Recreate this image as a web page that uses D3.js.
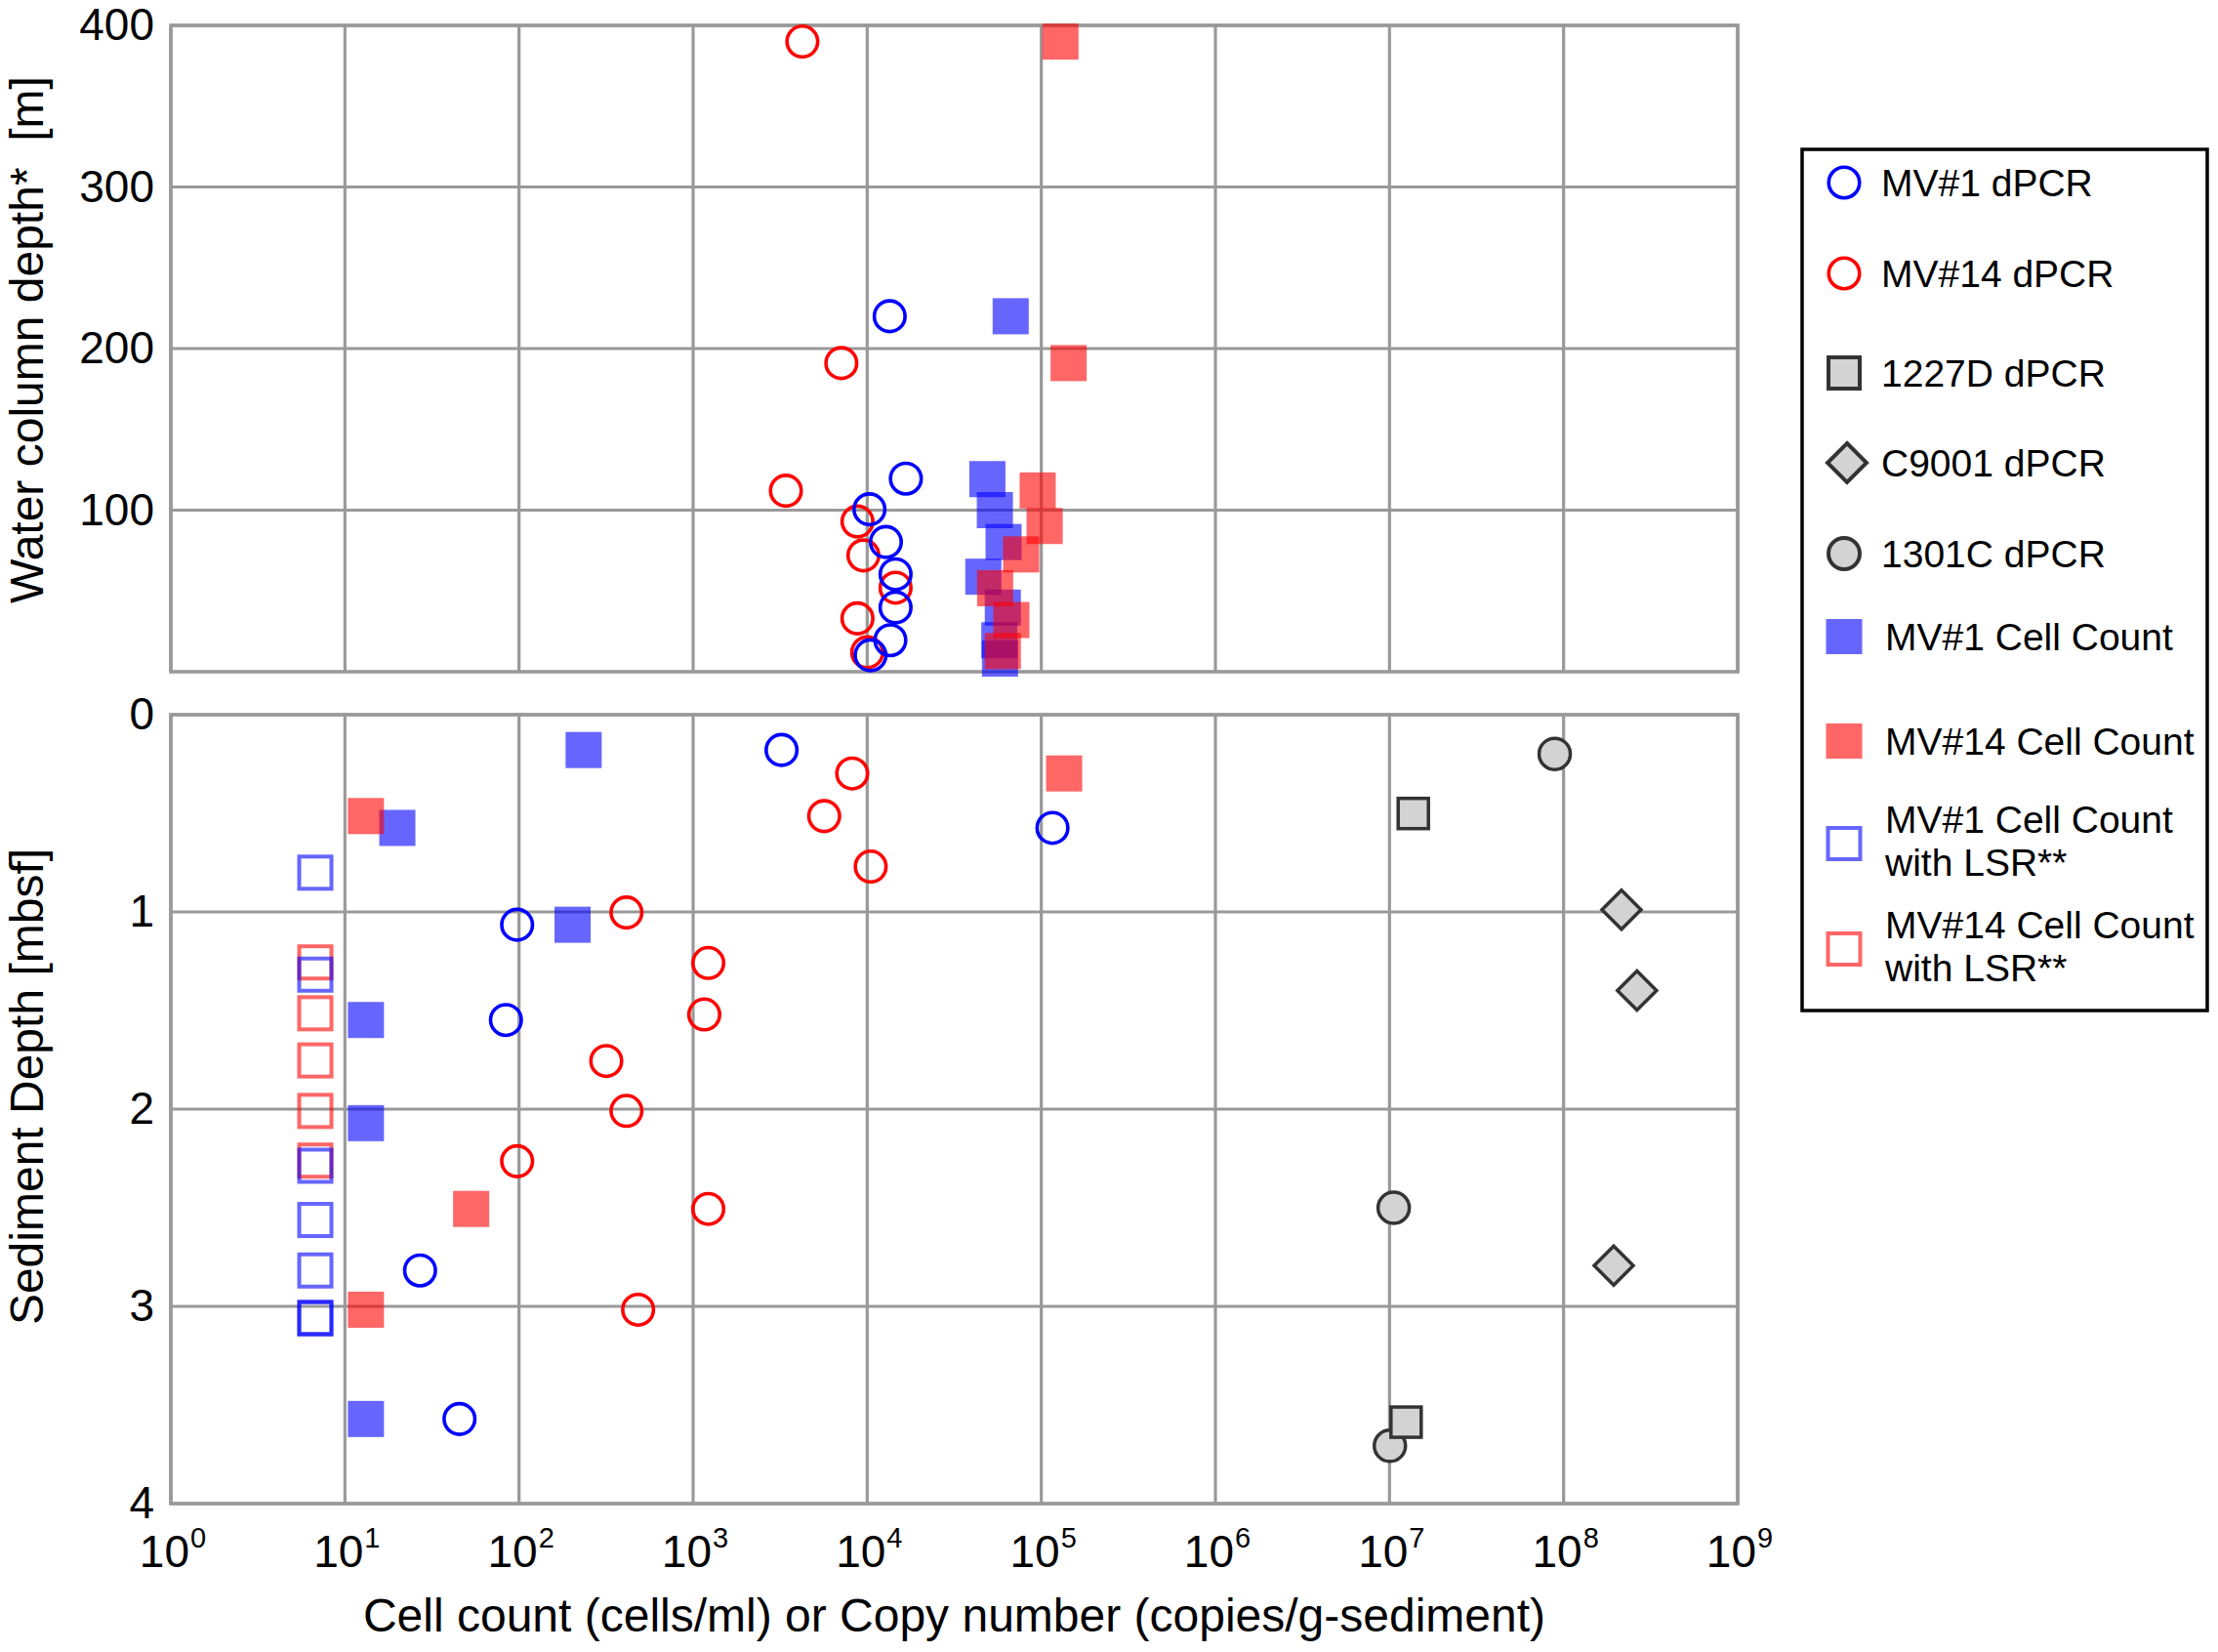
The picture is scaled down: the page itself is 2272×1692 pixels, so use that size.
<!DOCTYPE html>
<html><head><meta charset="utf-8">
<script src="https://cdn.jsdelivr.net/npm/d3@7/dist/d3.min.js"></script>
<style>
body{margin:0;background:#fff}
svg{display:block}
text{font-family:"Liberation Sans", Arial, Helvetica, sans-serif; fill:#000}
</style>
</head><body>
<svg id="chart" width="2272" height="1692"></svg>
<script>
// ---------- DATA ----------
const xTickExponents = [0,1,2,3,4,5,6,7,8,9];
const waterTicks = [100,200,300,400];
const sedimentTicks = [0,1,2,3,4];
const xTitle = "Cell count (cells/ml) or Copy number (copies/g-sediment)";
const waterTitle = "Water column depth*  [m]";
const sedimentTitle = "Sediment Depth [mbsf]";

// Water column: [value, depth m]
const mv1DpcrWater  = [[13460,220],[16670,119.5],[10300,100.5],[12800,80.3],[14550,60.3],[14550,39.8],[13580,19.5],[10450,10.2]];
const mv14DpcrWater = [[4240,390],[7100,191],[3410,112],[8790,93],[9510,72],[14550,52],[8790,33],[10000,12]];
const mv1CellWater  = [[66700,220],[49000,119.2],[54100,100],[60700,80.3],[46450,58.8],[60100,39.7],[57400,19.5],[57900,8.1]];
const mv14CellWater = [[128800,390],[143500,191],[95300,112.2],[104500,90.2],[76600,72.6],[54300,51.7],[67300,32],[60100,12.8]];

// Sediment: [value, depth mbsf]
const mv1CellSed  = [[235,0.179],[20,0.574],[203,1.065],[13.2,1.548],[13.2,2.071],[13.2,3.571]];
const mv14CellSed = [[135200,0.298],[13.2,0.514],[53.1,2.506],[13.2,3.017]];
const mv1LsrSed   = [[6.76,0.801],[6.76,1.318],[6.76,2.287],[6.76,2.562],[6.76,2.818],[6.76,3.057],[6.76,3.062]];
const mv14LsrSed  = [[6.76,1.256],[6.76,1.514],[6.76,1.753],[6.76,2.009],[6.76,2.261]];
const mv1DpcrSed  = [[3220,0.179],[115900,0.574],[97.5,1.065],[84.1,1.548],[27.0,2.818],[45.5,3.571]];
const mv14DpcrSed = [[8200,0.298],[5660,0.514],[10470,0.770],[414,1.003],[1222,1.259],[1159,1.520],[317,1.756],[414,2.009],[97.5,2.264],[1222,2.506],[483,3.017]];
const d1227Sed    = [[1.37e7,0.501],[1.245e7,3.587]];
const c9001Sed    = [[2.15e8,0.989],[2.64e8,1.399],[1.94e8,2.793]];
const c1301Sed    = [[8.89e7,0.199],[1.057e7,2.5],[1.005e7,3.707]];

const legendLabels = [
  ["MV#1 dPCR"],["MV#14 dPCR"],["1227D dPCR"],["C9001 dPCR"],["1301C dPCR"],
  ["MV#1 Cell Count"],["MV#14 Cell Count"],
  ["MV#1 Cell Count","with LSR**"],["MV#14 Cell Count","with LSR**"]
];

// ---------- STYLE / LAYOUT ----------
const BLUE="#0000ff", RED="#ff0000", GRID="#999999";
const svg = d3.select("#chart");
svg.append("rect").attr("width",2272).attr("height",1692).attr("fill","#fff");

const x = d3.scaleLog().domain([1,1e9]).range([175,1780]);
const yTop = d3.scaleLinear().domain([0,400]).range([688,26]);
const yBot = d3.scaleLinear().domain([0,4]).range([732,1540]);

function grid(yScale, hTicks){
  const g = svg.append("g");
  const [y0,y1] = yScale.range();
  g.selectAll("line.v").data(xTickExponents).join("line")
    .attr("x1",e=>x(Math.pow(10,e))).attr("x2",e=>x(Math.pow(10,e)))
    .attr("y1",Math.min(y0,y1)).attr("y2",Math.max(y0,y1))
    .attr("stroke",GRID).attr("stroke-width",3.2);
  g.selectAll("line.h").data(hTicks).join("line")
    .attr("x1",x(1)).attr("x2",x(1e9))
    .attr("y1",d=>yScale(d)).attr("y2",d=>yScale(d))
    .attr("stroke",GRID).attr("stroke-width",3.2);
  g.append("rect").attr("x",x(1)).attr("y",Math.min(y0,y1))
    .attr("width",x(1e9)-x(1)).attr("height",Math.abs(y0-y1))
    .attr("fill","none").attr("stroke",GRID).attr("stroke-width",3.6);
}
grid(yTop, waterTicks);
grid(yBot, sedimentTicks);

// y tick labels via axes
function yLabels(scale, ticks){
  const g = svg.append("g").attr("transform","translate(175,0)")
    .call(d3.axisLeft(scale).tickValues(ticks).tickSize(0).tickPadding(17).tickFormat(d3.format("d")));
  g.select(".domain").remove();
  g.selectAll("text").attr("font-size",46).attr("fill","#000")
    .style("font-family",'"Liberation Sans", Arial, sans-serif');
}
yLabels(yTop, waterTicks);
yLabels(yBot, sedimentTicks);

// x tick labels with superscripts
const xl = svg.append("g");
xTickExponents.forEach(e=>{
  const t = xl.append("text").attr("x",x(Math.pow(10,e))+2).attr("y",1605)
    .attr("text-anchor","middle").attr("font-size",46);
  t.append("tspan").text("10");
  t.append("tspan").attr("font-size",29).attr("dy",-20).attr("dx",1).text(String(e));
});

// axis titles
svg.append("text").attr("x",(x(1)+x(1e9))/2).attr("y",1671).attr("text-anchor","middle")
  .attr("font-size",48).text(xTitle);
svg.append("text").attr("transform","translate(44,348) rotate(-90)").attr("text-anchor","middle")
  .attr("font-size",48).style("white-space","pre").text(waterTitle);
svg.append("text").attr("transform","translate(44,1113) rotate(-90)").attr("text-anchor","middle")
  .attr("font-size",48).text(sedimentTitle);

// ---------- MARKS ----------
const SQ=37, R=17.5;
function filledSquares(data, y, color){
  svg.append("g").selectAll("rect").data(data).join("rect")
    .attr("x",d=>x(d[0])-SQ/2).attr("y",d=>y(d[1])-SQ/2)
    .attr("width",SQ).attr("height",SQ).attr("fill",color).attr("fill-opacity",0.6);
}
function openSquares(data, y, color){
  svg.append("g").selectAll("rect").data(data).join("rect")
    .attr("x",d=>x(d[0])-16.5).attr("y",d=>y(d[1])-16.5)
    .attr("width",33).attr("height",33).attr("fill","none")
    .attr("stroke",color).attr("stroke-opacity",0.6).attr("stroke-width",4);
}
function openCircles(data, y, color){
  svg.append("g").selectAll("circle").data(data).join("circle")
    .attr("cx",d=>x(d[0])).attr("cy",d=>y(d[1])).attr("r",R-1.75)
    .attr("fill","none").attr("stroke",color).attr("stroke-width",3.6);
}
function grayCircles(data, y){
  svg.append("g").selectAll("circle").data(data).join("circle")
    .attr("cx",d=>x(d[0])).attr("cy",d=>y(d[1])).attr("r",16)
    .attr("fill","#d3d3d3").attr("stroke","#333").attr("stroke-width",3.5);
}
function graySquares(data, y){
  svg.append("g").selectAll("rect").data(data).join("rect")
    .attr("x",d=>x(d[0])-15.5).attr("y",d=>y(d[1])-15.5).attr("width",31).attr("height",31)
    .attr("fill","#d3d3d3").attr("stroke","#333").attr("stroke-width",3.5);
}
const diamondPath = "M0,-20L20,0L0,20L-20,0Z";
function grayDiamonds(data, y){
  svg.append("g").selectAll("path").data(data).join("path")
    .attr("transform",d=>`translate(${x(d[0])},${y(d[1])})`).attr("d",diamondPath)
    .attr("fill","#d3d3d3").attr("stroke","#333").attr("stroke-width",3.5);
}

// water column
filledSquares(mv1CellWater, yTop, BLUE);
filledSquares(mv14CellWater, yTop, RED);
openCircles(mv14DpcrWater, yTop, RED);
openCircles(mv1DpcrWater, yTop, BLUE);
// sediment
filledSquares(mv1CellSed, yBot, BLUE);
filledSquares(mv14CellSed, yBot, RED);
openSquares(mv14LsrSed, yBot, RED);
openSquares(mv1LsrSed, yBot, BLUE);
openCircles(mv14DpcrSed, yBot, RED);
openCircles(mv1DpcrSed, yBot, BLUE);
grayCircles(c1301Sed, yBot);
graySquares(d1227Sed, yBot);
grayDiamonds(c9001Sed, yBot);

// ---------- LEGEND ----------
const lg = svg.append("g");
lg.append("rect").attr("x",1846).attr("y",153).attr("width",415).attr("height",882)
  .attr("fill","#fff").attr("stroke","#000").attr("stroke-width",3.5);
const legendY = [187,280,382,474,567,652,759,864,972];
const sx = 1889;
function legendSymbol(i, cy){
  const g = lg.append("g");
  switch(i){
    case 0: g.append("circle").attr("cx",sx).attr("cy",cy).attr("r",R-1.75).attr("fill","none").attr("stroke",BLUE).attr("stroke-width",3.6); break;
    case 1: g.append("circle").attr("cx",sx).attr("cy",cy).attr("r",R-1.75).attr("fill","none").attr("stroke",RED).attr("stroke-width",3.6); break;
    case 2: g.append("rect").attr("x",sx-16).attr("y",cy-16).attr("width",32).attr("height",32).attr("fill","#d3d3d3").attr("stroke","#333").attr("stroke-width",4); break;
    case 3: g.append("path").attr("transform",`translate(${sx+3},${cy})`).attr("d",diamondPath).attr("fill","#d3d3d3").attr("stroke","#333").attr("stroke-width",4); break;
    case 4: g.append("circle").attr("cx",sx).attr("cy",cy).attr("r",16).attr("fill","#d3d3d3").attr("stroke","#333").attr("stroke-width",4); break;
    case 5: g.append("rect").attr("x",sx-18.5).attr("y",cy-18).attr("width",37).attr("height",36).attr("fill",BLUE).attr("fill-opacity",0.6); break;
    case 6: g.append("rect").attr("x",sx-18.5).attr("y",cy-18).attr("width",37).attr("height",36).attr("fill",RED).attr("fill-opacity",0.6); break;
    case 7: g.append("rect").attr("x",sx-16.5).attr("y",cy-16).attr("width",33).attr("height",32).attr("fill","none").attr("stroke",BLUE).attr("stroke-opacity",0.6).attr("stroke-width",4); break;
    case 8: g.append("rect").attr("x",sx-16.5).attr("y",cy-16).attr("width",33).attr("height",32).attr("fill","none").attr("stroke",RED).attr("stroke-opacity",0.6).attr("stroke-width",4); break;
  }
}
legendLabels.forEach((lines,i)=>{
  const cy = legendY[i];
  legendSymbol(i, cy);
  const tx = i>=5 ? 1931 : 1927;
  const t = lg.append("text").attr("x",tx).attr("font-size",39);
  if(lines.length===1){
    t.attr("y",cy+14).text(lines[0]);
  } else {
    t.attr("y",cy-11);
    t.append("tspan").attr("x",tx).attr("dy",0).text(lines[0]);
    t.append("tspan").attr("x",tx).attr("dy",44).text(lines[1]);
  }
});
</script>
</body></html>
